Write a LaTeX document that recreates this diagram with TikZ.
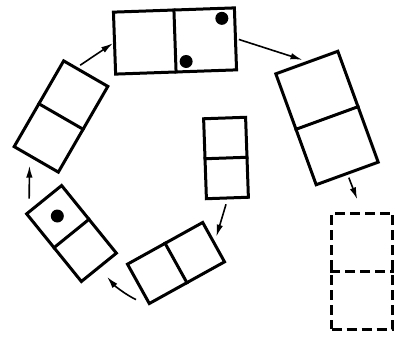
\documentclass[tikz,border=0pt]{standalone}
\usepackage{tikz}
\usetikzlibrary{positioning, arrows.meta, calc}

\begin{document}
\begin{tikzpicture}[
        x=1pt, y=1pt,
        domino/.style 2 args={
            rectangle,
            draw,
            line width=3pt,
            minimum width=#1,
            minimum height=#2,
            inner sep=0pt
        },
        ghost/.style={dash pattern=on 10pt off 5pt},
        pip/.style={fill, radius=6.5pt},
        line/.style={draw, -{Latex[length=12pt, width=6.5pt]}, line width=1.6pt}
    ]
        \useasboundingbox (0,0) rectangle (396,341);

        % Nodes
        \node [domino={121pt}{62pt}, rotate=2] (top) at (175,300) {};
        \node [domino={66pt}{118pt}, rotate=20] (right) at (327,223) {};
        \node [domino={61pt}{116pt}, ghost] (next) at (362,70) {};
        \node [domino={42pt}{80pt}, rotate=2] (start) at (226,183) {};
        \node [domino={86pt}{45pt}, rotate=29] (bottom) at (176,78) {};
        \node [domino={45pt}{87pt}, rotate=39] (lower) at (71.5,107.5) {};
        \node [domino={51pt}{99pt}, rotate=-30] (upper) at (61,224.5) {};

        % Middle lines of the dominoes
        \draw [line width=3pt] (top.north) -- (top.south);
        \draw [line width=3pt] (right.west) -- (right.east);
        \draw [line width=3pt, ghost] (next.west) -- (next.east);
        \draw [line width=3pt] (start.west) -- (start.east);
        \draw [line width=3pt] (bottom.north) -- (bottom.south);
        \draw [line width=3pt] (lower.west) -- (lower.east);
        \draw [line width=3pt] (upper.west) -- (upper.east);

        % Pips
        \fill [pip] ([shift={(-14pt,-12pt)}]top.north east) circle;
        \fill [pip] ([shift={(10pt,12pt)}]top.south) circle;
        \fill [pip] ($(lower.center)!.5!(lower.north)$) circle;

        % Paths
        \path [line, shorten >=5pt, shorten <=5pt] (start.south) -- (bottom.east);
        \path [line, shorten >=11pt, shorten <=14pt] (bottom.south west) to[bend left=12] (lower.south);
        \path [line, shorten >=5pt] ([xshift=-14pt]lower.north) -- ([xshift=-6pt]upper.south);
        \path [line, shorten <=2pt] ([xshift=-8pt, yshift=6pt]upper.north) -- (top.west);
        \path [line, shorten >=4pt, shorten <=2pt] (top.east) -- (right.north);
        \path [line, shorten >=13pt, shorten <=3pt] (right.south) -- (next.north);
    \end{tikzpicture}
\end{document}
